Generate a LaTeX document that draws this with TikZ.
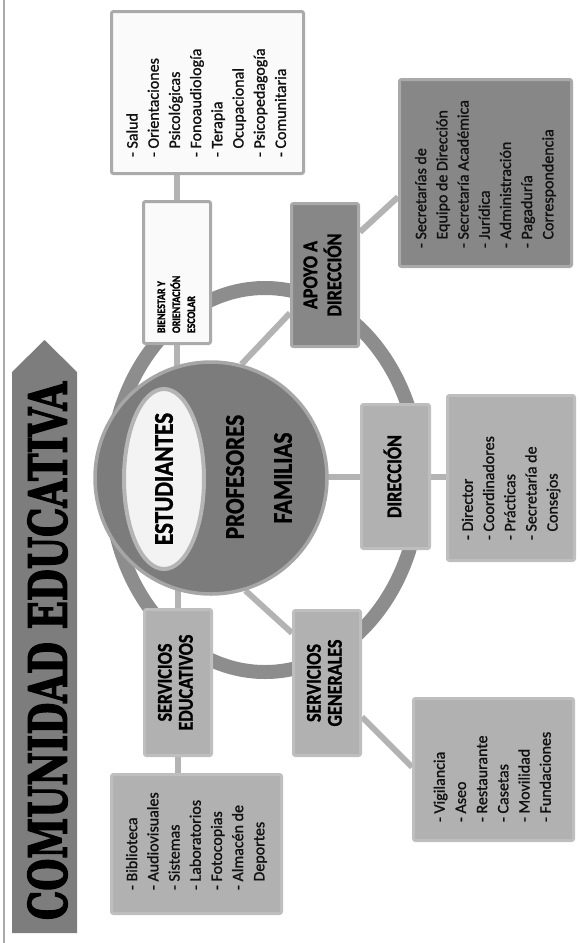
\documentclass[tikz,border=0pt]{standalone}
\usepackage{fontspec}
\setmainfont{Carlito}
\newfontfamily\headfont{Carlito}[FakeStretch=0.86,FakeBold=1.2]
\newfontfamily\itemfont{Carlito}[FakeBold=1.2]
\newfontfamily\titlefont{DejaVu Serif}[FakeBold=3]
\usetikzlibrary{shapes.geometric,backgrounds}
\definecolor{ringc}{HTML}{8D8D8D}
\definecolor{connc}{HTML}{B3B3B3}
\definecolor{circfill}{HTML}{7C7C7C}
\definecolor{circdraw}{HTML}{A6A6A6}
\definecolor{ellfill}{HTML}{F3F3F3}
\definecolor{elldraw}{HTML}{B5B5B5}
\definecolor{wfill}{HTML}{FAFAFA}
\definecolor{wdraw}{HTML}{AAAAAA}
\definecolor{dfill}{HTML}{878787}
\definecolor{ddraw}{HTML}{A9A9A9}
\definecolor{lfill}{HTML}{B1B1B1}
\definecolor{ldraw}{HTML}{BEBEBE}
\definecolor{titlec}{HTML}{7D7D7D}
\definecolor{itemc}{HTML}{111111}
\newcommand{\lstbox}[2]{\rotatebox{90}{\makebox[#1][l]{\itemfont\fontsize{16}{21.2}\selectfont\color{itemc}\begin{tabular}{@{}l@{}}#2\end{tabular}}}}
\newcommand{\headtxt}[1]{\rotatebox{90}{\headfont\bfseries\fontsize{21}{21}\selectfont\begin{tabular}{@{}c@{}}#1\end{tabular}}}
\newcommand{\ind}{\hphantom{- }}
\begin{document}
\begin{tikzpicture}[x=1pt,y=-1pt,
  box/.style={draw, line width=3pt, rounded corners=2pt, inner sep=0pt, anchor=center},
  whitebox/.style={box, fill=wfill, draw=wdraw},
  darkbox/.style={box, fill=dfill, draw=ddraw},
  lightbox/.style={box, fill=lfill, draw=ldraw},
  conn/.style={draw=connc, line width=6pt},
  bigtxt/.style={inner sep=0pt, font=\headfont\bfseries\fontsize{27}{27}\selectfont}]
\useasboundingbox (0,0) rectangle (579,943);
% left rule and title
\draw[wdraw, line width=1.2pt] (4,0) -- (4,943);
\fill[titlec] (12,933) -- (12,372) -- (44.5,340) -- (77,372) -- (77,933) -- cycle;
\node[inner sep=0pt] (title) at (47.5,651) {\rotatebox{90}{\resizebox{538pt}{39pt}{\titlefont\bfseries COMUNIDAD EDUCATIVA}}};
% centre
\node[circle, minimum size=232pt, fill=circfill, draw=circdraw, line width=3.5pt, inner sep=0pt] (circ) at (211,478) {};
\node[ellipse, minimum width=80pt, minimum height=180pt, fill=ellfill, draw=elldraw, line width=4pt, inner sep=0pt] (est) at (164,479) {};
\node[bigtxt] (esttxt) at (est.center) {\rotatebox{90}{ESTUDIANTES}};
\node[bigtxt] (prof) at (235,477) {\rotatebox{90}{PROFESORES}};
\node[bigtxt] (fam) at (283,478) {\rotatebox{90}{FAMILIAS}};
% boxes
\node[whitebox, minimum width=192pt, minimum height=162pt] (bienlist) at (207.5,92.5)
  {\lstbox{129pt}{- Salud\\- Orientaciones\\\ind Psicológicas\\- Fonoaudiología\\- Terapia\\\ind Ocupacional\\- Psicopedagogía\\- Comunitaria}};
\node[whitebox, minimum width=67pt, minimum height=142pt] (bien) at (177,272.5)
  {\rotatebox{90}{\makebox[121pt][l]{\headfont\bfseries\fontsize{11.5}{15}\selectfont\begin{tabular}{@{}l@{}}BIENESTAR Y\\ORIENTACIÓN\\ESCOLAR\end{tabular}}}};
\node[darkbox, minimum width=67pt, minimum height=143pt] (apoyo) at (325,275) {\headtxt{APOYO A\\DIRECCIÓN}};
\node[darkbox, minimum width=172pt, minimum height=187pt] (apoyolist) at (485.5,173)
  {\lstbox{150pt}{- Secretarías de\\\ind Equipo de Dirección\\- Secretaría Académica\\- Jurídica\\- Administración\\- Pagaduría\\\ind Correspondencia}};
\node[lightbox, minimum width=68pt, minimum height=144pt] (dir) at (395.5,476.5) {\headtxt{DIRECCIÓN}};
\node[lightbox, minimum width=127pt, minimum height=165pt] (dirlist) at (511,478)
  {\lstbox{124pt}{- Director\\- Coordinadores\\- Prácticas\\- Secretaría de\\\ind Consejos}};
\node[lightbox, minimum width=67pt, minimum height=146pt] (sedu) at (178,682.5) {\headtxt{SERVICIOS\\EDUCATIVOS}};
\node[lightbox, minimum width=170pt, minimum height=139pt] (sedulist) at (196.5,844)
  {\lstbox{92pt}{- Biblioteca\\- Audiovisuales\\- Sistemas\\- Laboratorios\\- Fotocopias\\- Almacén de\\\ind Deportes}};
\node[lightbox, minimum width=67pt, minimum height=145pt] (sgen) at (327,683) {\headtxt{SERVICIOS\\GENERALES}};
\node[lightbox, minimum width=160pt, minimum height=142pt] (sgenlist) at (493.5,769.5)
  {\lstbox{105pt}{- Vigilancia\\- Aseo\\- Restaurante\\- Casetas\\- Movilidad\\- Fundaciones}};
% ring and connectors behind
\begin{scope}[on background layer]
\draw[ringc, line width=14pt] (265,480) ellipse [x radius=155, y radius=192];
\draw[conn] (bien.north) -- (bien.north |- bienlist.south);
\draw[conn] (bien.south) -- (bien.south |- circ.center);
\draw[conn] ([yshift=-38pt]apoyo.west) -- (circ.75);
\draw[conn] ([yshift=43pt]apoyo.east) -- ([yshift=-24pt]apoyolist.west);
\draw[conn] (dir.west) -- (dir.west -| circ.center);
\draw[conn] (dir.east) -- (dir.east -| dirlist.west);
\draw[conn] (sedu.north) -- (sedu.north |- circ.center);
\draw[conn] (sedu.south) -- (sedu.south |- sedulist.north);
\draw[conn] ([yshift=50pt]sgen.west) -- (circ.-73);
\draw[conn] ([yshift=-34pt]sgen.east) -- ([yshift=2.5pt]sgenlist.west);
\end{scope}
\end{tikzpicture}
\end{document}
